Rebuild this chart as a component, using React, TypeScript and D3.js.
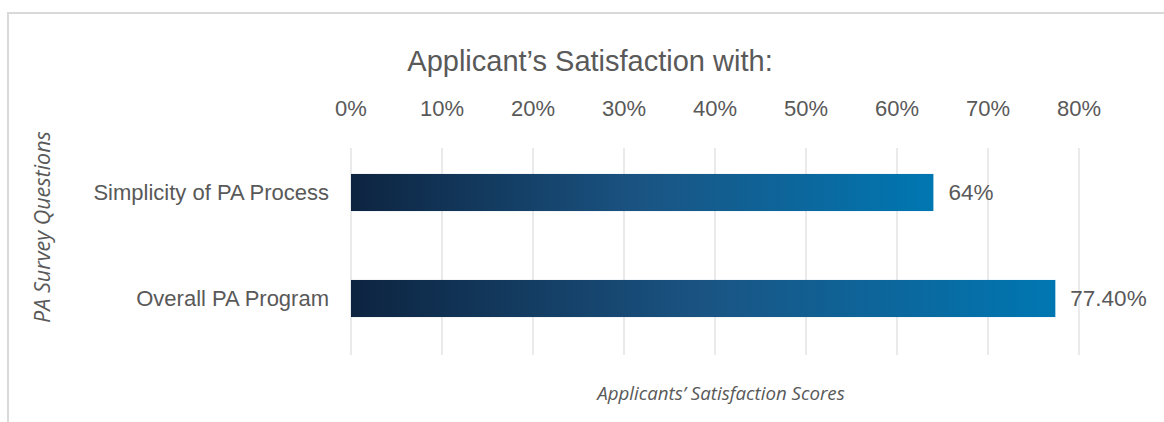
import React from "react";
import * as d3 from "d3";

const categories = ["Simplicity of PA Process", "Overall PA Program"];
const values = [0.64, 0.774];
const valueLabels = ["64%", "77.40%"];
const tickValues = [0, 0.1, 0.2, 0.3, 0.4, 0.5, 0.6, 0.7, 0.8];
const title = "Applicant\u2019s Satisfaction with:";
const xTitle = "Applicants\u2019 Satisfaction Scores";
const yTitle = "PA Survey Questions";

const W = 1164;
const H = 422;
const mainFont = "'Liberation Sans', Arial, sans-serif";
const italicFont = "'Open Sans', 'Noto Sans', sans-serif";
const textColor = "#595959";

export default function App() {
  const x = d3.scaleLinear().domain([0, 0.8]).range([351, 1079]);
  const y = d3
    .scaleBand<string>()
    .domain(categories)
    .range([139.5, 351.5])
    .paddingInner(0.65)
    .paddingOuter(0.325);
  const fmt = d3.format(".0%");

  return (
    <svg
      width={W}
      height={H}
      style={{ position: "absolute", left: 0, top: 0, background: "#fff" }}
    >
      <defs>
        <linearGradient id="barGrad" x1="0" x2="1" y1="0" y2="0">
          <stop offset="0%" stopColor="#0d2440" />
          <stop offset="50%" stopColor="#1a5483" />
          <stop offset="100%" stopColor="#0077b2" />
        </linearGradient>
      </defs>
      {/* frame */}
      <path d={`M8,${H} L8,13 L${W},13`} fill="none" stroke="#d9d9d9" strokeWidth={2} />

      {/* title */}
      <text
        x={590}
        y={71}
        textAnchor="middle"
        fontFamily={mainFont}
        fontSize={29}
        fill={textColor}
      >
        {title}
      </text>

      {/* gridlines */}
      {tickValues.map((t) => (
        <line
          key={"g" + t}
          x1={x(t)}
          x2={x(t)}
          y1={148}
          y2={355}
          stroke="#e3e3e3"
          strokeWidth={1.5}
        />
      ))}

      {/* tick labels */}
      {tickValues.map((t) => (
        <text
          key={"t" + t}
          x={x(t)}
          y={116}
          textAnchor="middle"
          fontFamily={mainFont}
          fontSize={22}
          fill={textColor}
        >
          {fmt(t)}
        </text>
      ))}

      {/* bars */}
      {categories.map((c, i) => (
        <g key={c}>
          <rect
            x={x(0)}
            y={y(c)}
            width={x(values[i]) - x(0)}
            height={y.bandwidth()}
            fill="url(#barGrad)"
          />
          <text
            x={x(0) - 22}
            y={(y(c) as number) + y.bandwidth() / 2}
            dy="0.35em"
            textAnchor="end"
            fontFamily={mainFont}
            fontSize={22}
            fill={textColor}
          >
            {c}
          </text>
          <text
            x={x(values[i]) + 15}
            y={(y(c) as number) + y.bandwidth() / 2}
            dy="0.35em"
            textAnchor="start"
            fontFamily={mainFont}
            fontSize={22.5}
            fill={textColor}
          >
            {valueLabels[i]}
          </text>
        </g>
      ))}

      {/* axis titles */}
      <text
        x={721}
        y={393}
        dy="0.35em"
        textAnchor="middle"
        fontFamily={italicFont}
        fontStyle="italic"
        fontSize={18.7}
        fill={textColor}
      >
        {xTitle}
      </text>
      <text
        transform="translate(42,227) rotate(-90)"
        dy="0.35em"
        textAnchor="middle"
        fontFamily={italicFont}
        fontStyle="italic"
        fontSize={21.5}
        fill={textColor}
      >
        {yTitle}
      </text>
    </svg>
  );
}
